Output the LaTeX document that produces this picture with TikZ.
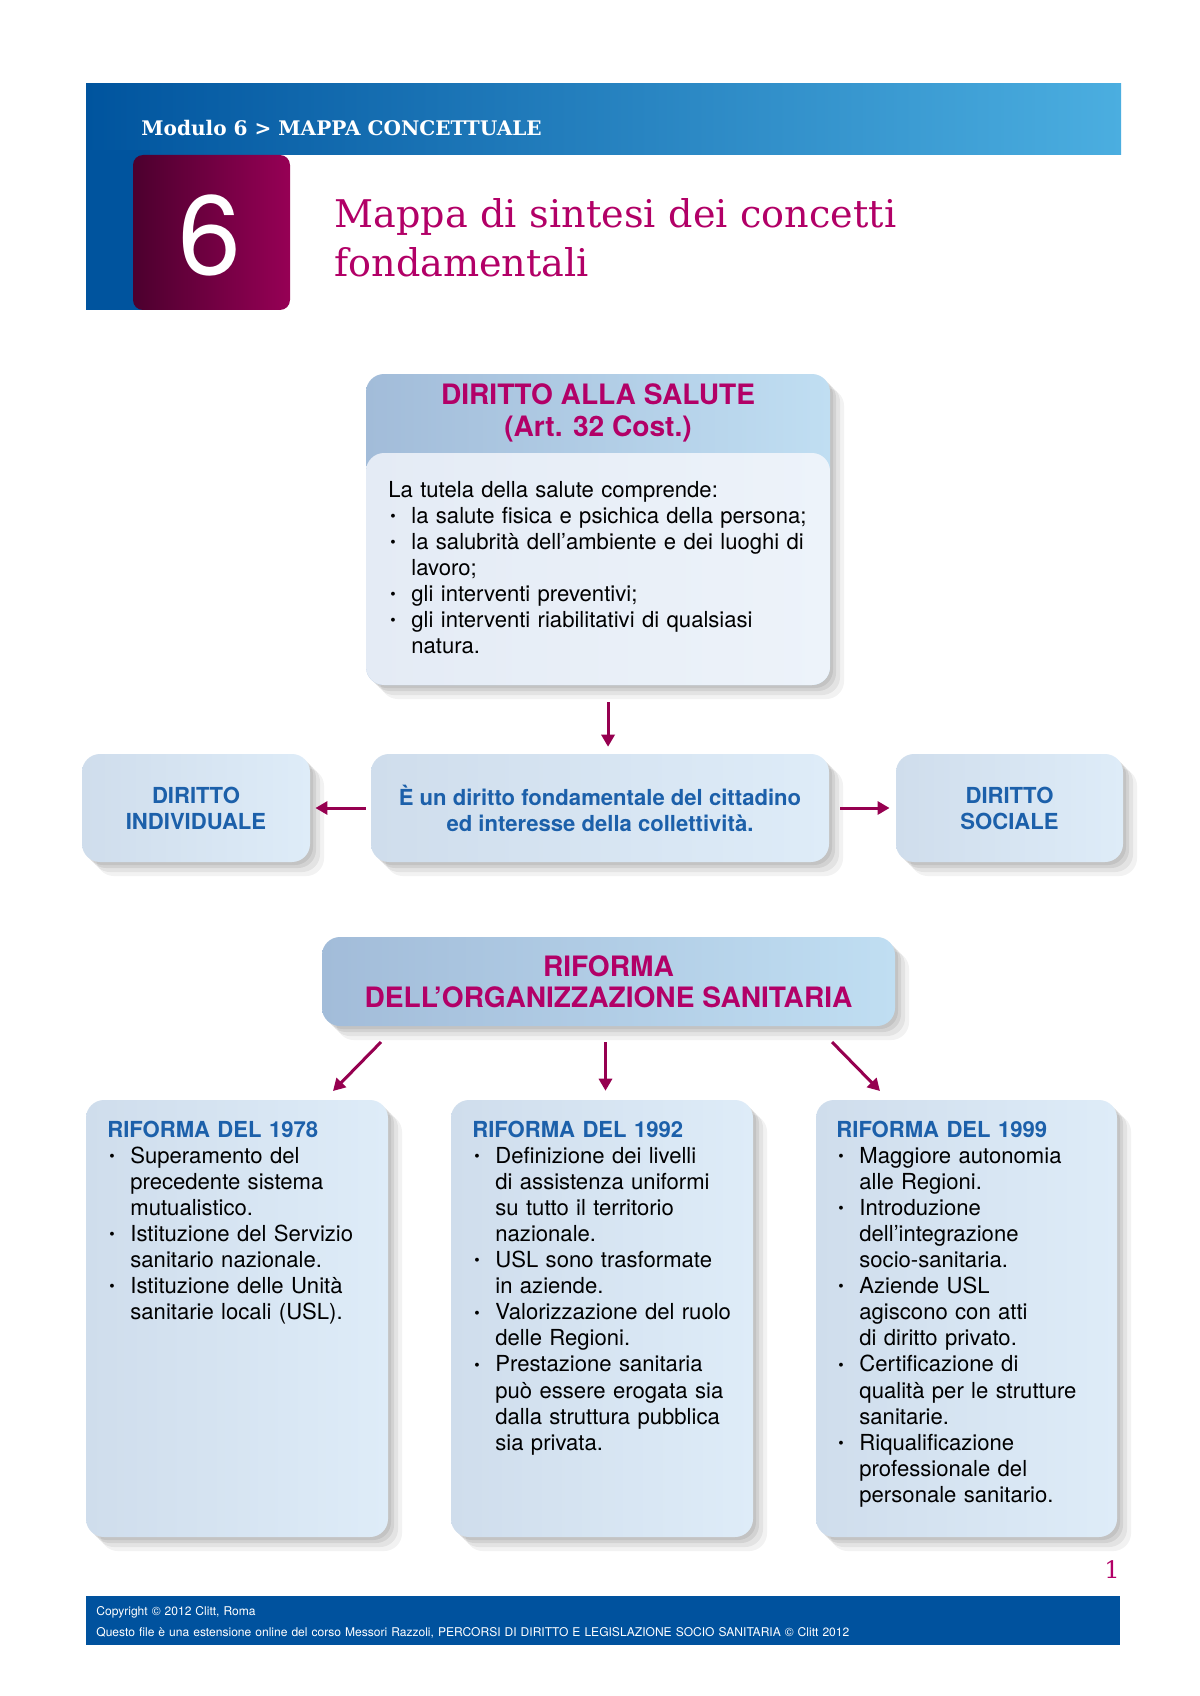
\documentclass[tikz,border=0pt]{standalone}
\usepackage{fontspec}
\setmainfont{TeX Gyre Heros}
\newfontfamily\slab{DejaVu Serif}
\usetikzlibrary{shadows,arrows.meta}

\newlength\unita
\setlength\unita{0.0175cm}
\newlength\rientro
\setlength\rientro{23\unita}
\newcommand\voce{\par\hangindent=\rientro\hangafter=1\noindent\makebox[\rientro][l]{\hspace{1pt}\raisebox{.15ex}{\scalebox{.7}{\textbullet}}}}

\definecolor{bandaL}{RGB}{0,84,158}
\definecolor{bandaR}{RGB}{75,174,224}
\definecolor{vinoL}{RGB}{76,0,46}
\definecolor{vinoR}{RGB}{150,0,85}
\definecolor{fucsia}{RGB}{178,0,103}
\definecolor{vinaccia}{RGB}{150,0,80}
\definecolor{blu}{RGB}{28,96,170}
\definecolor{testaL}{RGB}{162,188,217}
\definecolor{testaR}{RGB}{192,222,242}
\definecolor{corpoL}{RGB}{228,235,245}
\definecolor{corpoR}{RGB}{237,243,250}
\definecolor{boxL}{RGB}{207,221,236}
\definecolor{boxR}{RGB}{222,236,248}
\definecolor{piede}{RGB}{0,82,158}

\tikzset{
  ombra/.style={general shadow={fill=black,opacity=.05,shadow xshift=7pt,shadow yshift=-7pt},
    general shadow={fill=black,opacity=.06,shadow xshift=5pt,shadow yshift=-5pt},
    general shadow={fill=black,opacity=.07,shadow xshift=3pt,shadow yshift=-3pt},
    general shadow={fill=black,opacity=.07,shadow xshift=1.5pt,shadow yshift=-1.5pt}},
  testata/.style={rounded corners=9pt,left color=testaL,right color=testaR,ombra},
  riquadro/.style={rounded corners=9pt,left color=boxL,right color=boxR,ombra},
  titolo/.style={text=fucsia,font=\fontsize{14}{15.6}\selectfont\bfseries,align=center},
  voci/.style={anchor=base west,inner sep=0pt,text width=#1,font=\fontsize{11}{13}\selectfont},
  voci/.default=300\unita,
  dir/.style={text=blu,font=\fontsize{11}{12.9}\selectfont\bfseries,align=center},
  frecciona/.style={draw=vinaccia,line width=1.5pt,-{Triangle[length=6pt,width=6.5pt]}}
}

\begin{document}
\begin{tikzpicture}[x=\unita,y=-\unita]
	\path[use as bounding box,fill=white] (0,0) rectangle (1200,1696);
	% testata
	\shade[left color=bandaL,right color=bandaR] (86,84) rectangle (1121,155);
	\fill[bandaL] (86,150) rectangle (150,310);
	\shade[left color=vinoL,right color=vinoR,rounded corners=5pt] (133,155) rectangle (290,310);
	\node[anchor=base west,inner sep=0pt,text=white,font=\slab\bfseries\fontsize{10}{12}\selectfont] (modulo) at (141,136) {Modulo 6 > MAPPA CONCETTUALE};
	\node[text=white,inner sep=0pt,font=\fontsize{56}{56}\selectfont] (numero) at (210,235) {6};
	\node[anchor=base west,inner sep=0pt,text=fucsia,align=left,text width=800\unita,font=\slab\fontsize{19}{24.4}\selectfont] (mappa) at (334,228) {Mappa di sintesi dei concetti\\fondamentali};

	% diritto alla salute
	\node[testata,minimum width=464\unita,minimum height=311\unita] (salute) at (598,529.5) {};
	\node[rounded corners=9pt,left color=corpoL,right color=corpoR,minimum width=464\unita,minimum height=232\unita] (tutela) at (598,569) {};
	\node[titolo] (salutetit) at (598,413) {DIRITTO ALLA SALUTE\\(Art. 32 Cost.)};
	\node[voci=440\unita] (tutelatxt) at (388,497) {La tutela della salute comprende:
		\voce la salute fisica e psichica della persona;
		\voce la salubrità dell’ambiente e dei luoghi di\newline lavoro;
		\voce gli interventi preventivi;
		\voce gli interventi riabilitativi di qualsiasi\newline natura.\par};

	% riga centrale
	\node[riquadro,dir,minimum width=228\unita,minimum height=108\unita] (individuale) at (196,808) {DIRITTO\\INDIVIDUALE};
	\node[riquadro,dir,minimum width=458\unita,minimum height=108\unita] (cittadino) at (600,808) {È un diritto fondamentale del cittadino\\ed interesse della collettività.};
	\node[riquadro,dir,minimum width=227\unita,minimum height=108\unita] (sociale) at (1009.5,808) {DIRITTO\\SOCIALE};
	\draw[frecciona,shorten <=8.4pt,shorten >=3.4pt] ([xshift=5pt]salute.south) -- ([xshift=5pt]salute.south |- cittadino.north);
	\draw[frecciona,shorten <=2.5pt,shorten >=2.5pt] (cittadino.west) -- (individuale.east);
	\draw[frecciona,shorten <=5.4pt,shorten >=3pt] (cittadino.east) -- (sociale.west);

	% riforma
	\node[testata,titolo,minimum width=573\unita,minimum height=89\unita] (riforma) at (608.5,981.5) {RIFORMA\\DELL’ORGANIZZAZIONE SANITARIA};
	\node[riquadro,minimum width=302\unita,minimum height=437\unita] (r78) at (237,1318.5) {};
	\node[riquadro,minimum width=302\unita,minimum height=437\unita] (r92) at (602,1318.5) {};
	\node[riquadro,minimum width=301\unita,minimum height=437\unita] (r99) at (966.5,1318.5) {};
	\coordinate (sxa) at (381,1042);
	\coordinate (sxb) at (333,1091);
	\coordinate (dxa) at (832,1042);
	\coordinate (dxb) at (880,1091);
	\draw[frecciona] (sxa) -- (sxb);
	\draw[frecciona,shorten <=7.8pt,shorten >=4.4pt] ([xshift=-1.5pt]riforma.south) -- ([xshift=-1.5pt]riforma.south |- r92.north);
	\draw[frecciona] (dxa) -- (dxb);

	\node[voci] (t78) at (107,1137) {\textcolor{blu}{\bfseries RIFORMA DEL 1978}
		\voce Superamento del\newline precedente sistema\newline mutualistico.
		\voce Istituzione del Servizio\newline sanitario nazionale.
		\voce Istituzione delle Unità\newline sanitarie locali (USL).\par};
	\node[voci] (t92) at (472,1137) {\textcolor{blu}{\bfseries RIFORMA DEL 1992}
		\voce Definizione dei livelli\newline di assistenza uniformi\newline su tutto il territorio\newline nazionale.
		\voce USL sono trasformate\newline in aziende.
		\voce Valorizzazione del ruolo\newline delle Regioni.
		\voce Prestazione sanitaria\newline può essere erogata sia\newline dalla struttura pubblica\newline sia privata.\par};
	\node[voci] (t99) at (836,1137) {\textcolor{blu}{\bfseries RIFORMA DEL 1999}
		\voce Maggiore autonomia\newline alle Regioni.
		\voce Introduzione\newline dell’integrazione\newline socio-sanitaria.
		\voce Aziende USL\newline agiscono con atti\newline di diritto privato.
		\voce Certificazione di\newline qualità per le strutture\newline sanitarie.
		\voce Riqualificazione\newline professionale del\newline personale sanitario.\par};

	% piede
	\node[anchor=base west,inner sep=0pt,text=fucsia,font=\slab\fontsize{12}{12}\selectfont] (pagina) at (1104,1578) {1};
	\fill[piede] (86,1596) rectangle (1120,1645);
	\node[anchor=base west,inner sep=0pt,text=white,align=left,text width=1000\unita,font=\fontsize{6}{10.5}\selectfont] (copyright) at (96,1615) {Copyright © 2012 Clitt, Roma\\Questo file è una estensione online del corso Messori Razzoli, PERCORSI DI DIRITTO E LEGISLAZIONE SOCIO SANITARIA © Clitt 2012};
\end{tikzpicture}
\end{document}
